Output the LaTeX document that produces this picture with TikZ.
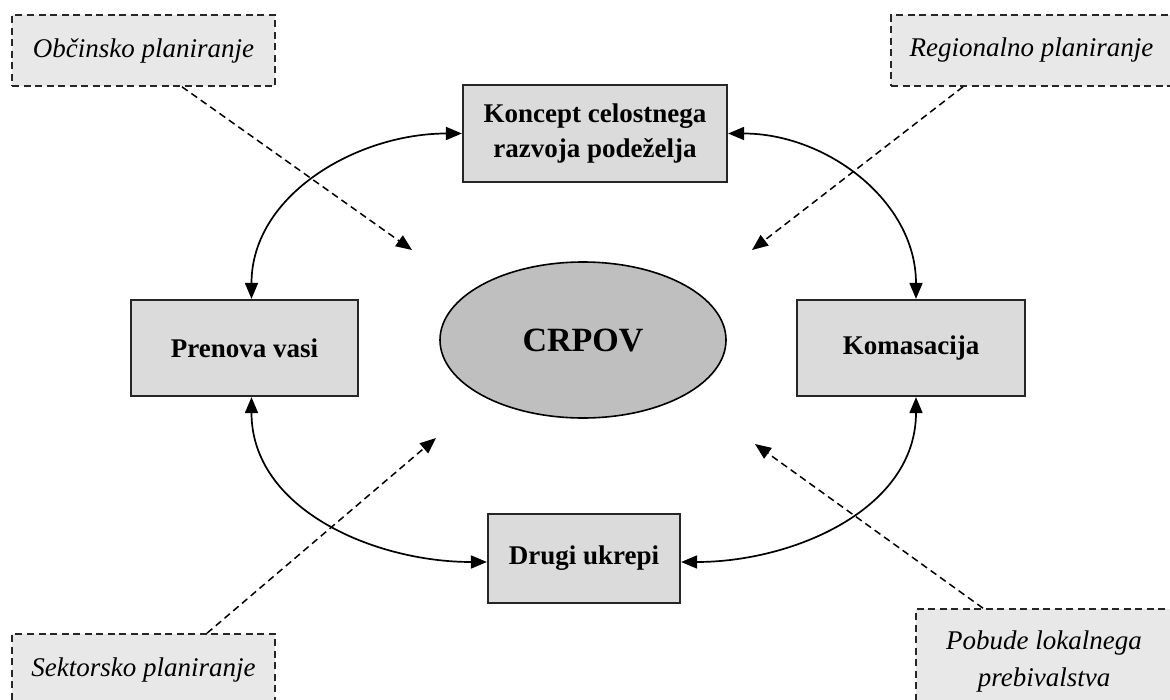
\documentclass[tikz,border=0pt]{standalone}
\usepackage{fontspec}
\setmainfont{Liberation Serif}
\usetikzlibrary{arrows.meta,shapes.geometric}

\tikzset{
  mainbox/.style={draw=black!85, line width=2.2pt, fill=black!14, align=center,
    inner sep=0pt, font=\fontsize{27}{35}\selectfont\bfseries},
  inputbox/.style={draw=black!85, line width=1.6pt, dash pattern=on 7pt off 4.5pt,
    fill=black!9, align=center, inner sep=0pt,
    font=\fontsize{27}{37}\selectfont\itshape},
  core/.style={ellipse, draw=black, line width=1.6pt, fill=black!25, inner sep=0pt,
    font=\fontsize{34}{38}\selectfont\bfseries},
  link/.style={line width=1.7pt, {Triangle[length=16pt,width=13pt]}-{Triangle[length=16pt,width=13pt]}},
  influence/.style={line width=1.5pt, dash pattern=on 7pt off 4.5pt,
    -{Triangle[length=16pt,width=13pt]}}
}

\begin{document}
\begin{tikzpicture}[x=1pt,y=-1pt]
  \clip (0,0) rectangle (1170,699);

  % central concept
  \node[core, minimum width=286pt, minimum height=156pt] (crpov) at (583,340) {CRPOV};

  % measures
  \node[mainbox, minimum width=264pt, minimum height=97pt] (koncept) at (595,133.5)
    {Koncept celostnega\\razvoja podeželja};
  \node[mainbox, minimum width=227pt, minimum height=96pt] (prenova) at (244.5,348) {Prenova vasi};
  \node[mainbox, minimum width=228pt, minimum height=96pt] (komasacija) at (911,348) {Komasacija};
  \node[mainbox, minimum width=192pt, minimum height=89pt] (drugi) at (584,558.5) {Drugi ukrepi};

  % planning inputs
  \node[inputbox, minimum width=263pt, minimum height=71pt] (obcinsko) at (143.5,50.5) {Občinsko planiranje};
  \node[inputbox, minimum width=281pt, minimum height=71pt] (regionalno) at (1031.5,50.5) {Regionalno planiranje};
  \node[inputbox, minimum width=263pt, minimum height=71pt] (sektorsko) at (143.5,669.5) {Sektorsko planiranje};
  \node[inputbox, minimum width=256pt, minimum height=105pt] (pobude) at (1044,661.5) {Pobude lokalnega\\prebivalstva};

  % two-way links around the centre
  \draw[link] (koncept.west) to[out=180,in=90] ([xshift=7pt]prenova.north);
  \draw[link] (koncept.east) to[out=0,in=90] ([xshift=5pt]komasacija.north);
  \draw[link] ([xshift=7pt]prenova.south) to[out=-90,in=180] ([yshift=-3.5pt]drugi.west);
  \draw[link] ([xshift=5pt]komasacija.south) to[out=-90,in=0] ([yshift=-3.5pt]drugi.east);

  % influences pointing towards the centre
  \coordinate (tl) at (412,250);
  \coordinate (tr) at (752,250);
  \coordinate (bl) at (436,438);
  \coordinate (br) at (755,444);
  \draw[influence] ([xshift=38.5pt]obcinsko.south) -- (tl);
  \draw[influence] ([xshift=-68.5pt]regionalno.south) -- (tr);
  \draw[influence] ([xshift=63.5pt]sektorsko.north) -- (bl);
  \draw[influence] ([xshift=-61pt]pobude.north) -- (br);
\end{tikzpicture}
\end{document}
